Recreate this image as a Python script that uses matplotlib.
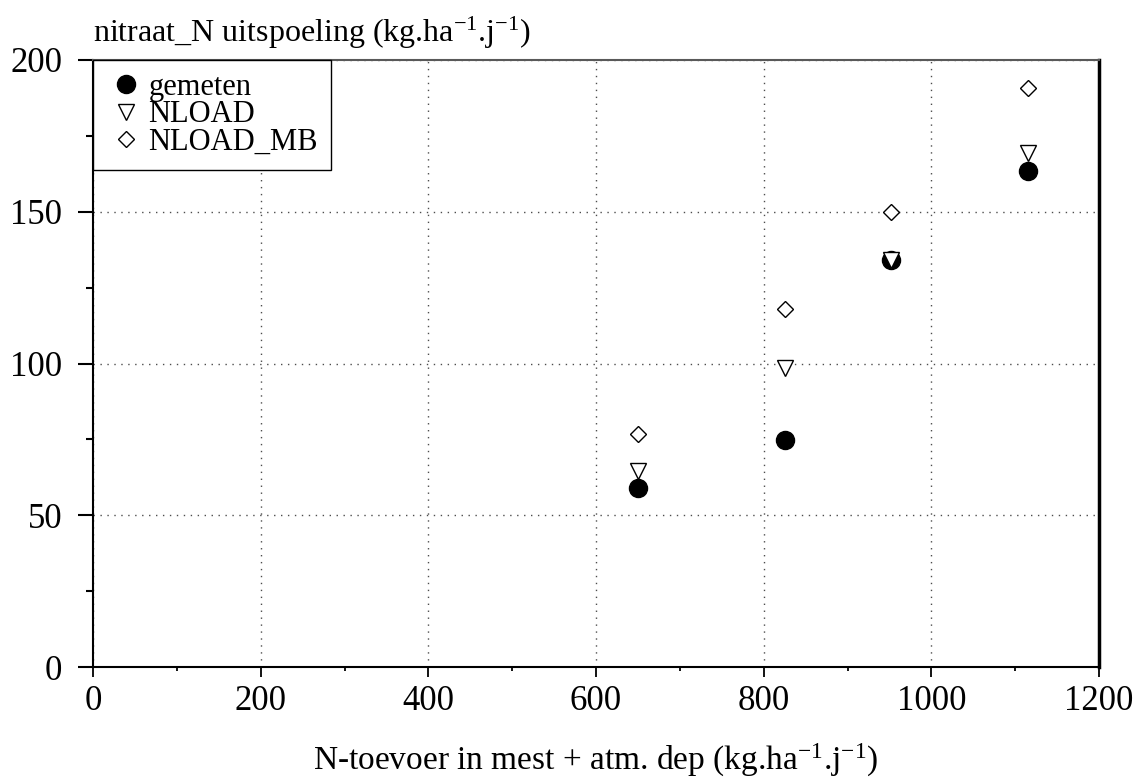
import matplotlib
matplotlib.use("Agg")
import matplotlib.pyplot as plt
from matplotlib.ticker import MultipleLocator

plt.rcParams["font.family"] = ["Liberation Serif", "DejaVu Serif"]
plt.rcParams["mathtext.fontset"] = "custom"
plt.rcParams["mathtext.rm"] = "Liberation Serif"
plt.rcParams["mathtext.it"] = "Liberation Serif:italic"

# N input (manure + atm. deposition), kg/ha/yr
n_input = [650, 826, 952, 1115]
# nitrate-N leaching, kg/ha/yr
gemeten = [58.9, 74.8, 134.2, 163.4]
nload = [64.5, 98.5, 134.2, 169.3]
nload_mb = [76.7, 118.0, 150.0, 190.9]

fig = plt.figure(figsize=(11.39, 7.83), dpi=100)
ax = fig.add_axes([93 / 1139, 1 - 667 / 783, 1006 / 1139, 607 / 783])

ax.plot(n_input, gemeten, "o", color="black", markersize=13, linestyle="none",
        label="gemeten", zorder=3)
ax.plot(n_input, nload, "v", markerfacecolor="white", markeredgecolor="black",
        markeredgewidth=1.0, markersize=11, linestyle="none", label="NLOAD", zorder=4)
ax.plot(n_input, nload_mb, "D", markerfacecolor="white", markeredgecolor="black",
        markeredgewidth=1.0, markersize=8, linestyle="none", label="NLOAD_MB", zorder=4)

ax.set_xlim(0, 1200)
ax.set_ylim(0, 200)
ax.xaxis.set_major_locator(MultipleLocator(200))
ax.xaxis.set_minor_locator(MultipleLocator(100))
ax.yaxis.set_major_locator(MultipleLocator(50))
ax.yaxis.set_minor_locator(MultipleLocator(25))

ax.tick_params(axis="x", which="major", direction="out", length=7, width=1.3,
               labelsize=25, pad=6)
ax.tick_params(axis="x", which="minor", direction="out", length=3, width=1.3)
ax.tick_params(axis="y", which="major", direction="out", length=11, width=1.5,
               labelsize=25, pad=11)
ax.tick_params(axis="y", which="minor", direction="out", length=5, width=1.5)

ax.grid(True, which="major", color="0.3", linestyle=(0, (1, 4)), linewidth=1.0)

ax.spines["left"].set_linewidth(1.5)
ax.spines["bottom"].set_linewidth(1.5)
ax.spines["right"].set_linewidth(2.5)
ax.spines["top"].set_linewidth(1.5)
ax.spines["top"].set_color("0.35")

ax.set_xlabel(r"N-toevoer in mest + atm. dep (kg.ha$^{\mathrm{-1}}$.j$^{\mathrm{-1}}$)",
              fontsize=24, labelpad=17)
fig.text(93 / 1139, 1 - 42 / 783,
         r"nitraat_N uitspoeling (kg.ha$^{\mathrm{-1}}$.j$^{\mathrm{-1}}$)",
         fontsize=23, ha="left", va="baseline")

leg = ax.legend(loc="upper left", bbox_to_anchor=(0, 1), borderaxespad=0,
                fontsize=22, frameon=True, fancybox=False, handlelength=1.3,
                handletextpad=0.1, labelspacing=-0.05, borderpad=0.42)
leg.get_frame().set_edgecolor("black")
leg.get_frame().set_linewidth(1.0)
leg.get_frame().set_alpha(1)

fig.savefig("out.png", dpi=100)
